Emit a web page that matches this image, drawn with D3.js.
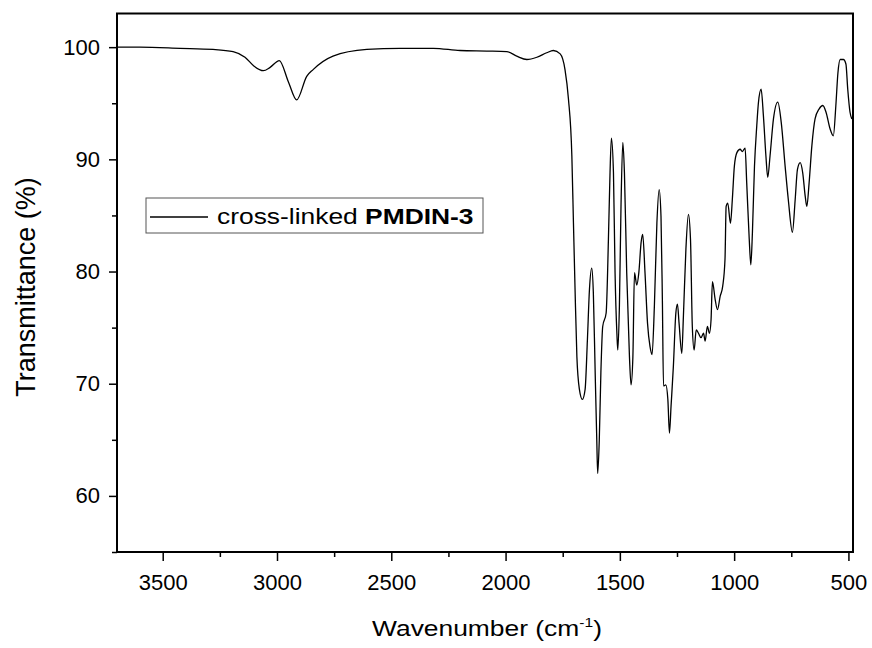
<!DOCTYPE html>
<html>
<head>
<meta charset="utf-8">
<script src="https://cdn.jsdelivr.net/npm/d3@7"></script>
<style>
    body { margin: 0; background: #fff; }
    text { font-family: "Liberation Sans", Arial, sans-serif; fill: #000; }
</style>
</head>
<body>
<div id="chart"></div>
<script>
// spectrum (cm-1, %T)
const wavenumber = [
    3700, 3600, 3424, 3280, 3192, 3140, 3100, 3060, 3030, 2990,
    2950, 2914, 2870, 2842, 2755, 2607, 2462, 2316, 2199, 2082,
    1995, 1951, 1907, 1863, 1820, 1791, 1761, 1740, 1725, 1710,
    1703, 1696, 1688, 1677, 1664, 1652, 1642, 1633, 1623, 1616,
    1608, 1601, 1597, 1590, 1583, 1575, 1560, 1550, 1543, 1537,
    1528, 1521, 1513, 1509, 1502, 1495, 1487, 1480, 1470, 1458,
    1451, 1443, 1436, 1426, 1417, 1407, 1400, 1390, 1379, 1368,
    1359, 1349, 1338, 1328, 1320, 1314, 1309, 1299, 1290, 1283,
    1276, 1266, 1255, 1248, 1241, 1229, 1222, 1211, 1200, 1191,
    1183, 1175, 1166, 1156, 1145, 1134, 1127, 1117, 1108, 1101,
    1095, 1083, 1073, 1061, 1050, 1040, 1035, 1028, 1016, 1008,
    999, 988, 974, 964, 952, 945, 934, 927, 920, 911,
    901, 894, 882, 872, 861, 853, 843, 828, 809, 794,
    777, 763, 745, 733, 723, 711, 700, 689, 682, 672,
    660, 646, 628, 612, 598, 580, 566, 555, 546, 536,
    522, 511, 503, 493, 485
];
const transmittance = [
    100.0, 100.0, 99.9, 99.8, 99.6, 99.1, 98.3, 97.9, 98.2, 98.8,
    96.9, 95.3, 97.4, 98.0, 99.2, 99.8, 99.9, 99.9, 99.7, 99.65,
    99.6, 99.2, 98.9, 99.1, 99.5, 99.7, 99.4, 98.0, 95.4, 90.3,
    84.3, 78.4, 72.4, 69.5, 68.6, 69.5, 73.9, 78.4, 80.3, 78.1,
    71.0, 65.0, 62.0, 65.0, 71.0, 75.1, 76.3, 82.9, 88.8, 91.9,
    88.8, 79.9, 74.5, 73.0, 76.9, 85.8, 91.5, 88.8, 79.9, 72.4,
    69.9, 72.4, 79.9, 78.8, 79.9, 82.6, 83.3, 79.9, 75.4, 73.3,
    72.6, 76.9, 84.3, 87.3, 84.9, 77.5, 69.8, 69.9, 68.6, 65.6,
    68.0, 71.5, 76.3, 77.1, 75.4, 72.7, 76.0, 82.0, 85.1, 82.9,
    75.1, 73.0, 74.8, 74.5, 74.1, 74.5, 73.8, 75.1, 74.5, 75.7,
    79.1, 77.5, 76.6, 77.8, 78.7, 81.1, 85.8, 86.1, 84.3, 86.4,
    89.4, 90.6, 90.9, 90.7, 91.0, 87.9, 82.9, 80.6, 83.5, 89.4,
    93.0, 95.0, 96.25, 93.9, 90.3, 88.4, 90.3, 93.6, 95.1, 93.3,
    89.4, 86.4, 83.5, 86.4, 89.1, 89.7, 88.8, 86.7, 85.8, 87.9,
    91.2, 93.6, 94.5, 94.8, 94.2, 92.7, 92.1, 94.8, 97.7, 98.9,
    98.9, 98.5, 96.25, 94.2, 93.6
];

const xMajorTicks = [3500, 3000, 2500, 2000, 1500, 1000, 500];
const xMinorTicks = [3250, 2750, 2250, 1750, 1250, 750];
const yMajorTicks = [60, 70, 80, 90, 100];
const yMinorTicks = [55, 65, 75, 85, 95];
const seriesName = "cross-linked ";
const seriesCode = "PMDIN-3";

// canvas
const zeichenbreite = 872, zeichenhohe = 648;
const margin = { top: 13.5, right: 19, bottom: 96, left: 117 };
const innerWidth = zeichenbreite - margin.left - margin.right;
const innerHeight = zeichenhohe - margin.top - margin.bottom;

const svg = d3.select("#chart").append("svg")
    .attr("width", zeichenbreite)
    .attr("height", zeichenhohe);

const group = svg.append("g")
    .attr("transform", `translate(${margin.left},${margin.top})`);

// scales, wavenumber runs right to left
const x = d3.scaleLinear().domain([3700, 480]).range([0, innerWidth]);
const y = d3.scaleLinear().domain([55, 103]).range([innerHeight, 0]);

// axes
function styleAxis(g, minor) {
    g.select(".domain").remove();
    g.selectAll(".tick line").attr("stroke", "#000").attr("stroke-width", 1.5);
    if (minor) {
        g.selectAll(".tick text").remove();
    } else {
        g.selectAll(".tick text").style("font-size", "22px").attr("fill", "#000");
    }
}

group.append("g")
    .attr("transform", `translate(0,${innerHeight})`)
    .call(d3.axisBottom(x).tickValues(xMinorTicks).tickSize(5))
    .call(g => styleAxis(g, true));

group.append("g")
    .attr("transform", `translate(0,${innerHeight})`)
    .call(d3.axisBottom(x).tickValues(xMajorTicks).tickSize(9).tickPadding(13).tickFormat(d3.format("d")))
    .call(g => styleAxis(g, false));

group.append("g")
    .call(d3.axisLeft(y).tickValues(yMinorTicks).tickSize(5))
    .call(g => styleAxis(g, true));

group.append("g")
    .call(d3.axisLeft(y).tickValues(yMajorTicks).tickSize(8).tickPadding(9).tickFormat(d3.format("d")))
    .call(g => styleAxis(g, false));

// frame
group.append("rect")
    .attr("width", innerWidth)
    .attr("height", innerHeight)
    .attr("fill", "none")
    .attr("stroke", "#000")
    .attr("stroke-width", 2);

// spectrum
const points = wavenumber.map((w, i) => [w, transmittance[i]]);
const line = d3.line()
    .x(d => x(d[0]))
    .y(d => y(d[1]))
    .curve(d3.curveMonotoneX);

group.append("path")
    .datum(points)
    .attr("fill", "none")
    .attr("stroke", "#000")
    .attr("stroke-width", 1.3)
    .attr("stroke-linejoin", "round")
    .attr("d", line);

// axis titles
const xTitle = svg.append("text")
    .attr("transform", `translate(${margin.left + innerWidth / 2 + 2},636) scale(1.2,1)`)
    .attr("text-anchor", "middle")
    .style("font-size", "22px");
xTitle.append("tspan").text("Wavenumber (cm");
xTitle.append("tspan").attr("dy", "-9").style("font-size", "13px").text("-1");
xTitle.append("tspan").attr("dy", "9").text(")");

svg.append("text")
    .attr("transform", "translate(35,287) rotate(-90)")
    .attr("text-anchor", "middle")
    .style("font-size", "27px")
    .text("Transmittance (%)");

// legend
const legend = svg.append("g").attr("transform", "translate(146,198)");
legend.append("rect")
    .attr("width", 337)
    .attr("height", 35)
    .attr("fill", "#fff")
    .attr("stroke", "#555")
    .attr("stroke-width", 1);
legend.append("line")
    .attr("x1", 4).attr("x2", 62)
    .attr("y1", 19).attr("y2", 19)
    .attr("stroke", "#000")
    .attr("stroke-width", 1.3);
const legendText = legend.append("text")
    .attr("transform", "translate(71,26) scale(1.2,1)")
    .style("font-size", "22px");
legendText.append("tspan").text(seriesName);
legendText.append("tspan").style("font-weight", "bold").text(seriesCode);
</script>
</body>
</html>
